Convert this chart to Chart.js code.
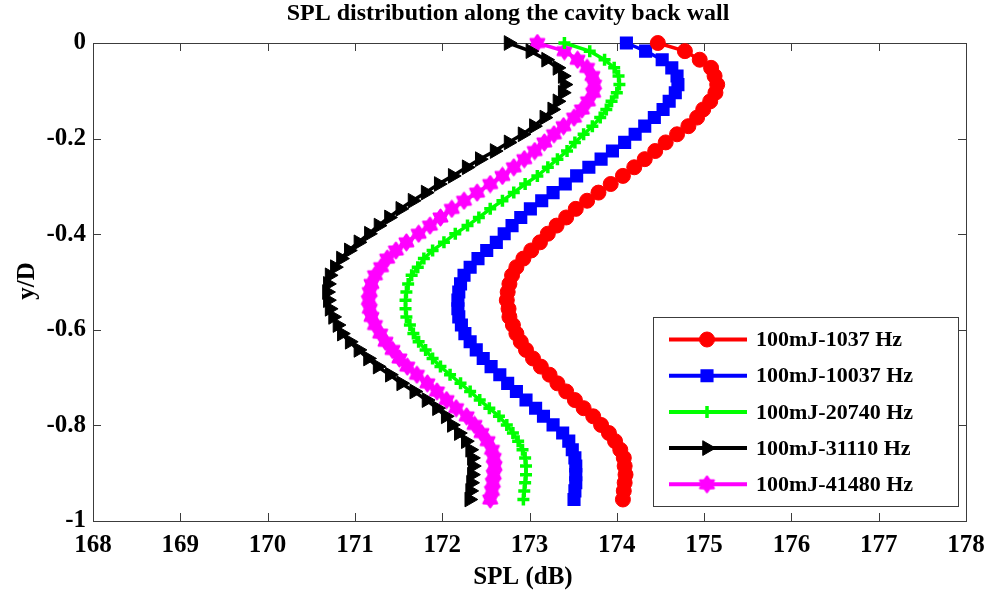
<!DOCTYPE html>
<html>
<head>
<meta charset="utf-8">
<script src="https://cdn.jsdelivr.net/npm/chart.js@4/dist/chart.umd.min.js"></script>
<style>
  html, body { margin: 0; padding: 0; background: #fff; }
</style>
</head>
<body>
<canvas id="splChart" width="995" height="597"></canvas>
<script>
// y/D positions along the back wall (same for every series)
const depth = [0, -0.017, -0.035, -0.052, -0.069, -0.087, -0.104, -0.122, -0.139, -0.156,
  -0.174, -0.191, -0.208, -0.226, -0.243, -0.26, -0.278, -0.295, -0.313, -0.33,
  -0.347, -0.365, -0.382, -0.399, -0.417, -0.434, -0.451, -0.469, -0.486, -0.504,
  -0.521, -0.538, -0.556, -0.573, -0.59, -0.608, -0.625, -0.642, -0.66, -0.677,
  -0.694, -0.712, -0.729, -0.747, -0.764, -0.781, -0.799, -0.816, -0.833, -0.851,
  -0.868, -0.885, -0.903, -0.92, -0.937, -0.955];

const seriesNames = ["100mJ-1037 Hz", "100mJ-10037 Hz", "100mJ-20740 Hz", "100mJ-31110 Hz", "100mJ-41480 Hz"];

// SPL (dB) values
const spl1037 = [174.47, 174.78, 174.95, 175.08, 175.12, 175.15, 175.13, 175.07, 174.99, 174.92,
  174.82, 174.69, 174.56, 174.44, 174.32, 174.20, 174.07, 173.93, 173.79, 173.66,
  173.53, 173.42, 173.31, 173.21, 173.12, 173.02, 172.93, 172.85, 172.80, 172.77,
  172.75, 172.74, 172.76, 172.77, 172.81, 172.85, 172.90, 172.96, 173.04, 173.13,
  173.23, 173.32, 173.42, 173.52, 173.62, 173.73, 173.82, 173.91, 173.98, 174.04,
  174.08, 174.09, 174.10, 174.09, 174.08, 174.07];
const spl10037 = [174.11, 174.33, 174.52, 174.63, 174.69, 174.70, 174.67, 174.60, 174.53, 174.43,
  174.32, 174.21, 174.09, 173.95, 173.82, 173.68, 173.54, 173.41, 173.27, 173.14,
  173.01, 172.90, 172.80, 172.71, 172.62, 172.51, 172.41, 172.32, 172.25, 172.21,
  172.19, 172.18, 172.18, 172.19, 172.22, 172.26, 172.32, 172.39, 172.47, 172.56,
  172.66, 172.75, 172.85, 172.96, 173.07, 173.16, 173.27, 173.38, 173.45, 173.49,
  173.52, 173.53, 173.53, 173.53, 173.52, 173.51];
const spl20740 = [173.40, 173.69, 173.86, 173.97, 174.02, 174.03, 174.00, 173.94, 173.88, 173.81,
  173.72, 173.62, 173.52, 173.43, 173.32, 173.21, 173.09, 172.95, 172.82, 172.69,
  172.55, 172.42, 172.29, 172.15, 172.02, 171.89, 171.79, 171.72, 171.65, 171.61,
  171.59, 171.58, 171.58, 171.59, 171.63, 171.67, 171.73, 171.81, 171.89, 171.98,
  172.09, 172.21, 172.32, 172.43, 172.54, 172.65, 172.74, 172.81, 172.87, 172.92,
  172.95, 172.96, 172.96, 172.95, 172.94, 172.93];
const spl31110 = [172.76, 173.01, 173.19, 173.32, 173.38, 173.40, 173.38, 173.32, 173.26, 173.17,
  173.05, 172.92, 172.76, 172.60, 172.43, 172.28, 172.12, 171.96, 171.81, 171.66,
  171.52, 171.39, 171.27, 171.16, 171.04, 170.93, 170.84, 170.77, 170.71, 170.69,
  170.68, 170.69, 170.71, 170.75, 170.80, 170.85, 170.94, 171.04, 171.15, 171.26,
  171.40, 171.53, 171.68, 171.82, 171.94, 172.04, 172.11, 172.19, 172.27, 172.32,
  172.34, 172.35, 172.34, 172.33, 172.32, 172.31];
const spl41480 = [173.09, 173.40, 173.55, 173.66, 173.72, 173.74, 173.73, 173.67, 173.60, 173.51,
  173.39, 173.28, 173.17, 173.06, 172.94, 172.82, 172.69, 172.55, 172.40, 172.25,
  172.11, 171.98, 171.86, 171.73, 171.59, 171.47, 171.37, 171.30, 171.23, 171.19,
  171.17, 171.16, 171.17, 171.19, 171.23, 171.29, 171.35, 171.43, 171.51, 171.60,
  171.71, 171.83, 171.94, 172.05, 172.16, 172.28, 172.37, 172.45, 172.52, 172.57,
  172.59, 172.60, 172.59, 172.58, 172.57, 172.55];

const xTicks = [168, 169, 170, 171, 172, 173, 174, 175, 176, 177, 178];
const yTicks = [0, -0.2, -0.4, -0.6, -0.8, -1];

const FONT = "'Liberation Serif', 'Times New Roman', serif";

// filled six-pointed star for the magenta series
function hexagram(color) {
  const c = document.createElement('canvas');
  c.width = 19; c.height = 19;
  const g = c.getContext('2d');
  g.fillStyle = color; g.strokeStyle = color; g.lineWidth = 2; g.lineJoin = 'round';
  g.beginPath();
  for (let k = 0; k < 12; k++) {
    const r = k % 2 === 0 ? 8 : 5;
    const a = -Math.PI / 2 + k * Math.PI / 6;
    const px = 9.5 + r * Math.cos(a), py = 9.5 + r * Math.sin(a);
    if (k === 0) g.moveTo(px, py); else g.lineTo(px, py);
  }
  g.closePath(); g.fill(); g.stroke();
  return c;
}

const pts = vals => vals.map((v, i) => ({ x: v, y: depth[i] }));

const datasets = [
  { label: seriesNames[0], data: pts(spl1037), borderColor: '#ff0000', backgroundColor: '#ff0000',
    pointStyle: 'circle', pointRadius: 7.5, pointBorderWidth: 1 },
  { label: seriesNames[1], data: pts(spl10037), borderColor: '#0000ff', backgroundColor: '#0000ff',
    pointStyle: 'rect', pointRadius: 7.5, pointBorderWidth: 2.5 },
  { label: seriesNames[2], data: pts(spl20740), borderColor: '#00ff00', backgroundColor: '#00ff00',
    pointStyle: 'cross', pointRadius: 6, pointBorderWidth: 3.5 },
  { label: seriesNames[3], data: pts(spl31110), borderColor: '#000000', backgroundColor: '#000000',
    pointStyle: 'triangle', pointRotation: 90, pointRadius: 8.5, pointBorderWidth: 1 },
  { label: seriesNames[4], data: pts(spl41480), borderColor: '#ff00ff', backgroundColor: '#ff00ff',
    pointStyle: hexagram('#ff00ff'), pointRadius: 7, pointBorderWidth: 0 }
].map(d => Object.assign({
  showLine: true, borderWidth: 3.5, tension: 0, clip: false,
  pointBackgroundColor: d.backgroundColor, pointBorderColor: d.borderColor
}, d));

// axes box with inward ticks on all four sides
const frame = {
  id: 'frame',
  beforeDatasetsDraw(chart) {
    const { ctx, chartArea: a, scales: { x, y } } = chart;
    ctx.save();
    ctx.strokeStyle = '#3c3c3c';
    ctx.lineWidth = 1;
    ctx.strokeRect(a.left + 0.5, a.top + 0.5, a.right - a.left, a.bottom - a.top);
    ctx.beginPath();
    xTicks.forEach(t => {
      const px = Math.round(x.getPixelForValue(t)) + 0.5;
      ctx.moveTo(px, a.bottom); ctx.lineTo(px, a.bottom - 8);
      ctx.moveTo(px, a.top); ctx.lineTo(px, a.top + 8);
    });
    yTicks.forEach(t => {
      const py = Math.round(y.getPixelForValue(t)) + 0.5;
      ctx.moveTo(a.left, py); ctx.lineTo(a.left + 8, py);
      ctx.moveTo(a.right, py); ctx.lineTo(a.right - 8, py);
    });
    ctx.stroke();
    ctx.restore();
  }
};

// title, axis titles and the boxed legend in the lower right
const labels = {
  id: 'labels',
  afterDraw(chart) {
    const ctx = chart.ctx;
    ctx.save();
    ctx.fillStyle = '#000';
    ctx.textAlign = 'center';
    ctx.textBaseline = 'middle';
    ctx.font = 'bold 24px ' + FONT;
    ctx.fillText('SPL distribution along the cavity back wall', 508, 14);
    ctx.font = 'bold 25px ' + FONT;
    ctx.fillText('SPL (dB)', 523, 578);
    ctx.translate(28, 281);
    ctx.rotate(-Math.PI / 2);
    ctx.fillText('y/D', 0, 0);
    ctx.restore();

    ctx.save();
    ctx.fillStyle = '#fff';
    ctx.fillRect(653.5, 317.5, 305, 189);
    ctx.strokeStyle = '#3c3c3c';
    ctx.lineWidth = 1;
    ctx.strokeRect(653.5, 317.5, 305, 189);
    chart.data.datasets.forEach((ds, i) => {
      const ly = 339.5 + i * 36.2;
      ctx.strokeStyle = ds.borderColor;
      ctx.lineWidth = 4;
      ctx.beginPath();
      ctx.moveTo(669, ly); ctx.lineTo(747, ly);
      ctx.stroke();
      ctx.fillStyle = ds.backgroundColor;
      ctx.lineWidth = ds.pointBorderWidth;
      Chart.helpers.drawPoint(ctx, {
        pointStyle: ds.pointStyle, rotation: ds.pointRotation || 0,
        radius: ds.pointRadius, borderWidth: ds.pointBorderWidth
      }, 707, ly);
      ctx.fillStyle = '#000';
      ctx.font = 'bold 22px ' + FONT;
      ctx.textAlign = 'left';
      ctx.textBaseline = 'middle';
      ctx.fillText(ds.label, 756, ly + 1);
    });
    ctx.restore();
  }
};

new Chart(document.getElementById('splChart').getContext('2d'), {
  type: 'scatter',
  data: { datasets },
  options: {
    responsive: false,
    animation: false,
    devicePixelRatio: 1,
    layout: { padding: { top: 43, right: 29, left: 0, bottom: 0 } },
    plugins: { legend: { display: false }, title: { display: false }, tooltip: { enabled: false } },
    scales: {
      x: {
        type: 'linear', min: 168, max: 178,
        afterFit: s => { s.height = 76; },
        afterBuildTicks: s => { s.ticks = xTicks.map(v => ({ value: v })); },
        grid: { display: false, drawTicks: false },
        border: { display: false },
        ticks: { color: '#000', padding: 10, font: { family: FONT, size: 25, weight: 'bold' } }
      },
      y: {
        type: 'linear', min: -1, max: 0,
        afterFit: s => { s.width = 93; },
        afterBuildTicks: s => { s.ticks = yTicks.map(v => ({ value: v })); },
        grid: { display: false, drawTicks: false },
        border: { display: false },
        ticks: {
          color: '#000', padding: 7, font: { family: FONT, size: 25, weight: 'bold' },
          callback: v => String(Math.round(v * 10) / 10)
        }
      }
    }
  },
  plugins: [frame, labels]
});
</script>
</body>
</html>
